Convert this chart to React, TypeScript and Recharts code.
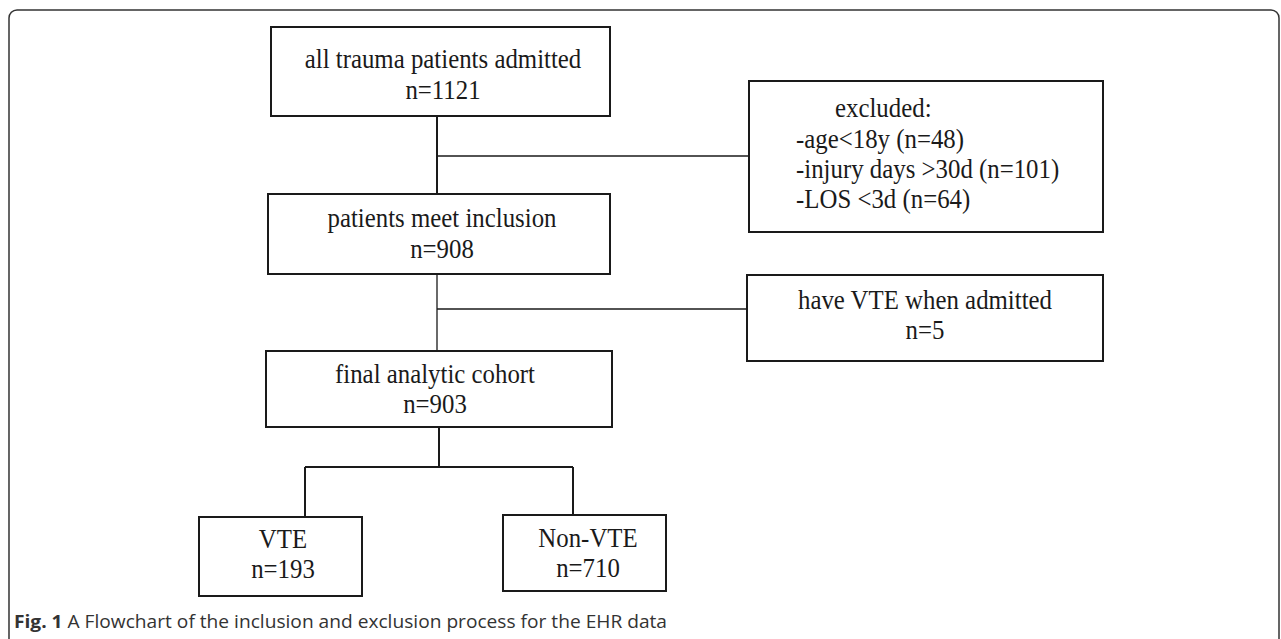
import React from 'react';
import { ScatterChart, Scatter, XAxis, YAxis, ReferenceArea, ReferenceLine } from 'recharts';

// Flowchart counts
const stageLabels = ['all trauma patients admitted', 'patients meet inclusion', 'final analytic cohort'];
const stageCounts = [1121, 908, 903];
const exclusionHeader = 'excluded:';
const exclusionReasons = ['age<18y', 'injury days >30d', 'LOS <3d'];
const exclusionCounts = [48, 101, 64];
const admittedVteLabel = 'have VTE when admitted';
const admittedVteCount = 5;
const outcomeLabels = ['VTE', 'Non-VTE'];
const outcomeCounts = [193, 710];
const captionBold = 'Fig. 1';
const captionText = ' A Flowchart of the inclusion and exclusion process for the EHR data';

// Layout in page pixels (chart domain = 1281 x 639)
const W = 1281;
const H = 639;
const INK = '#1a1a1a';
const SERIF = '"Liberation Serif", "Times New Roman", serif';

const stageBoxes = [
  { x1: 271, x2: 610, y1: 27, y2: 116, tx: 443, lines: [68, 99] },
  { x1: 268, x2: 610, y1: 194, y2: 274, tx: 442, lines: [227, 258] },
  { x1: 266, x2: 612, y1: 351, y2: 427, tx: 435, lines: [383, 413] },
];
const exclusionBox = { x1: 749, x2: 1103, y1: 81, y2: 232, headX: 835, itemX: 796, lines: [117, 148, 178, 208] };
const admittedVteBox = { x1: 747, x2: 1103, y1: 275, y2: 361, tx: 925, lines: [309, 339] };
const outcomeBoxes = [
  { x1: 199, x2: 362, y1: 517, y2: 596, tx: 283, lines: [548, 578] },
  { x1: 503, x2: 666, y1: 515, y2: 591, tx: 588, lines: [547, 577] },
];

const connectors = [
  { from: [437, 116], to: [437, 194], w: 2 },
  { from: [437, 156], to: [749, 156], w: 1.3 },
  { from: [437, 274], to: [437, 351], w: 1.3 },
  { from: [437, 309], to: [747, 309], w: 1.3 },
  { from: [439, 427], to: [439, 467], w: 2 },
  { from: [305, 467], to: [573, 467], w: 2 },
  { from: [305, 467], to: [305, 517], w: 2 },
  { from: [573, 467], to: [573, 515], w: 2 },
];

// Text lines placed as scatter points
const textPoints: any[] = [];
stageBoxes.forEach((b, i) => {
  textPoints.push({ x: b.tx, y: b.lines[0], text: stageLabels[i], anchor: 'middle' });
  textPoints.push({ x: b.tx, y: b.lines[1], text: `n=${stageCounts[i]}`, anchor: 'middle' });
});
textPoints.push({ x: exclusionBox.headX, y: exclusionBox.lines[0], text: exclusionHeader, anchor: 'start' });
exclusionReasons.forEach((r, i) => {
  textPoints.push({
    x: exclusionBox.itemX,
    y: exclusionBox.lines[i + 1],
    text: `-${r} (n=${exclusionCounts[i]})`,
    anchor: 'start',
  });
});
textPoints.push({ x: admittedVteBox.tx, y: admittedVteBox.lines[0], text: admittedVteLabel, anchor: 'middle' });
textPoints.push({ x: admittedVteBox.tx, y: admittedVteBox.lines[1], text: `n=${admittedVteCount}`, anchor: 'middle' });
outcomeBoxes.forEach((b, i) => {
  textPoints.push({ x: b.tx, y: b.lines[0], text: outcomeLabels[i], anchor: 'middle' });
  textPoints.push({ x: b.tx, y: b.lines[1], text: `n=${outcomeCounts[i]}`, anchor: 'middle' });
});
const captionPoint = [{ x: 14, y: 628 }];

// slightly condensed serif, as in the scanned figure
const TextShape = (props: any) => {
  const { cx, cy, payload } = props;
  return (
    <text
      transform={`translate(${cx},${cy}) scale(0.92,1)`}
      x={0}
      y={0}
      textAnchor={payload.anchor}
      fontFamily={SERIF}
      fontSize={27}
      fill={INK}
    >
      {payload.text}
    </text>
  );
};

const CaptionShape = (props: any) => {
  const { cx, cy } = props;
  return (
    <text
      x={cx}
      y={cy}
      fontFamily='"Open Sans", "Noto Sans", sans-serif'
      fontSize={18}
      fill="#333"
      textLength={653}
      lengthAdjust="spacingAndGlyphs"
    >
      <tspan fontWeight="bold">{captionBold}</tspan>
      <tspan>{captionText}</tspan>
    </text>
  );
};

const allBoxes = [...stageBoxes, exclusionBox, admittedVteBox, ...outcomeBoxes];

export default function App() {
  return (
    <div style={{ width: W, height: H, background: '#fff' }}>
      <style>{'body{margin:0;background:#fff}'}</style>
      <ScatterChart width={W} height={H} margin={{ top: 0, right: 0, bottom: 0, left: 0 }}>
        <XAxis type="number" dataKey="x" domain={[0, W]} hide allowDataOverflow />
        <YAxis type="number" dataKey="y" domain={[0, H]} reversed hide allowDataOverflow />

        {/* outer rounded frame */}
        <ReferenceArea
          x1={9}
          x2={1279}
          y1={10}
          y2={680}
          ifOverflow="visible"
          shape={(p: any) => (
            <rect x={p.x} y={p.y} width={p.width} height={p.height} rx={8} ry={8} fill="none" stroke="#333" strokeWidth={1.5} />
          )}
        />

        {connectors.map((c, i) => (
          <ReferenceLine
            key={`c-${i}`}
            segment={[{ x: c.from[0], y: c.from[1] }, { x: c.to[0], y: c.to[1] }]}
            stroke={INK}
            strokeWidth={c.w}
            ifOverflow="visible"
          />
        ))}

        {allBoxes.map((b, i) => (
          <ReferenceArea
            key={`b-${i}`}
            x1={b.x1}
            x2={b.x2}
            y1={b.y1}
            y2={b.y2}
            fill="#fff"
            fillOpacity={1}
            stroke={INK}
            strokeWidth={2}
            ifOverflow="visible"
          />
        ))}

        <Scatter data={textPoints} shape={<TextShape />} isAnimationActive={false} />
        <Scatter data={captionPoint} shape={<CaptionShape />} isAnimationActive={false} />
      </ScatterChart>
    </div>
  );
}
